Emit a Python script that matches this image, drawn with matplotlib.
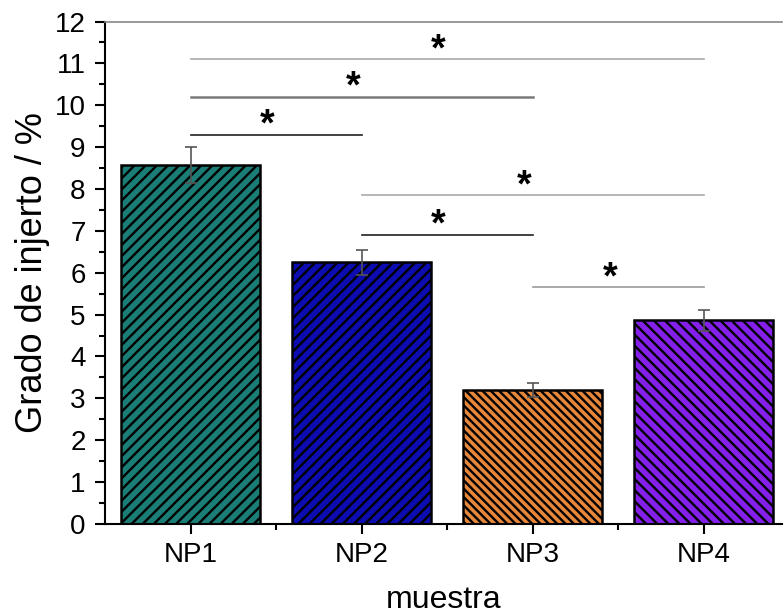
import matplotlib
matplotlib.use('Agg')
import matplotlib.pyplot as plt
from matplotlib.ticker import MultipleLocator, FixedLocator

plt.rcParams['font.family'] = ['Liberation Sans', 'DejaVu Sans']
plt.rcParams['hatch.linewidth'] = 1.7

# Grado de injerto por muestra (media y desviación)
muestras = ['NP1', 'NP2', 'NP3', 'NP4']
grado = [8.57, 6.25, 3.20, 4.86]
error = [0.43, 0.30, 0.16, 0.25]
colores = ['#1a7d76', '#0c0cb0', '#e6873a', '#8420ea']
tramas = ['///', '///', '\\\\\\\\', '\\\\\\']

# Comparaciones significativas: (muestra a, muestra b, altura, color de línea)
comp_a = [0, 0, 0, 1, 1, 2]
comp_b = [3, 2, 1, 3, 2, 3]
comp_y = [11.1, 10.2, 9.3, 7.85, 6.9, 5.65]
comp_color = ['#aaaaaa', '#7a7a7a', '#202020', '#aaaaaa', '#202020', '#999999']
comp_lw = [1.2, 1.8, 1.2, 1.2, 1.2, 1.2]

fig = plt.figure(figsize=(7.84, 6.15), dpi=100)
ax = fig.add_axes([0.134, 0.148, 0.864, 0.817])

x = list(range(1, len(muestras) + 1))
barras = ax.bar(x, grado, width=0.81, color=colores, edgecolor='black',
                linewidth=1.8, zorder=2)
for b, h in zip(barras, tramas):
    b.set_hatch(h)
ax.errorbar(x, grado, yerr=error, fmt='none', ecolor='#555555',
            elinewidth=1.2, capsize=4, capthick=1.2, zorder=3)

for a, b, y, c, lw in zip(comp_a, comp_b, comp_y, comp_color, comp_lw):
    ax.plot([x[a], x[b]], [y, y], color=c, lw=lw, zorder=1)
    ax.text((x[a] + x[b]) / 2 - 0.05, y - 0.02, '*', ha='center',
            va='baseline', fontsize=27, fontweight='bold')

ax.set_xlim(0.5, 4.46)
ax.set_ylim(0, 12)
ax.set_xticks(x)
ax.set_xticklabels(muestras)
ax.xaxis.set_minor_locator(FixedLocator([1.5, 2.5, 3.5]))
ax.yaxis.set_major_locator(MultipleLocator(1))
ax.yaxis.set_minor_locator(MultipleLocator(0.5))

ax.tick_params(axis='both', which='major', direction='out', length=7,
               width=1.5, labelsize=20)
ax.tick_params(axis='both', which='minor', direction='out', length=4,
               width=1.5)
ax.tick_params(axis='x', pad=6)
ax.tick_params(axis='y', pad=7)

ax.spines['left'].set_linewidth(1.5)
ax.spines['bottom'].set_linewidth(1.5)
ax.spines['top'].set_color('#888888')
ax.spines['top'].set_linewidth(1.2)
ax.spines['right'].set_visible(False)

ax.set_xlabel('muestra', fontsize=23, labelpad=12)
ax.set_ylabel('Grado de injerto / %', fontsize=26, labelpad=3)

fig.savefig('out.png', dpi=100)
